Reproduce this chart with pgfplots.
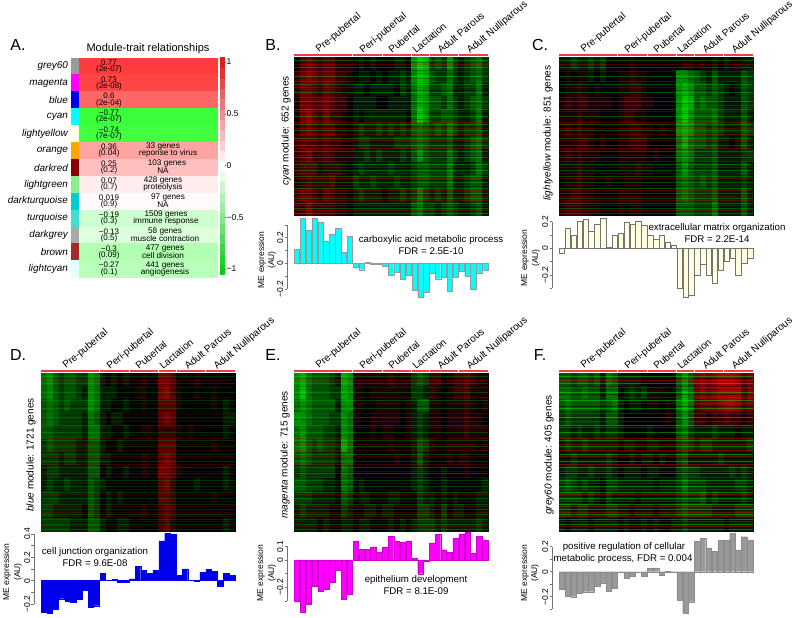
\documentclass[border=0pt]{standalone}
\usepackage{pgfplots}
\usepackage{pgfplotstable}
\usepackage{fontspec}
\setmainfont{Liberation Sans}
\pgfplotsset{compat=1.18}
\definecolor{cyanm}{RGB}{0,255,255}
\definecolor{magentam}{RGB}{255,0,255}
\definecolor{bluem}{RGB}{0,0,235}
\definecolor{lightyellow}{RGB}{255,255,224}
\definecolor{grey60}{RGB}{153,153,153}
\definecolor{darkred}{RGB}{139,0,0}
\definecolor{lightgreen}{RGB}{144,238,144}
\definecolor{darkturquoise}{RGB}{0,206,209}
\definecolor{turquoise}{RGB}{64,224,208}
\definecolor{darkgrey}{RGB}{169,169,169}
\definecolor{brownm}{RGB}{165,42,42}
\definecolor{lightcyan}{RGB}{224,255,255}
\definecolor{orangem}{RGB}{255,165,0}
\definecolor{redline}{RGB}{240,60,70}
\definecolor{stripeg}{RGB}{0,255,0}
\definecolor{striper}{RGB}{255,0,0}
\newcommand\fs[1]{\fontsize{#1}{#1}\selectfont}
\newcommand\T[4][]{\node[inner sep=0pt,#1] at ({(#2)*1pt},{618pt-(#3)*1pt}) {#4};}

% stripes across the heat maps, rows 0-12
\pgfplotstableread[header=false,row sep=\\]{0.55\\1.1\\1.85\\2.3\\3.05\\3.7\\4.15\\4.95\\5.4\\5.85\\6.3\\6.95\\7.45\\7.9\\8.35\\8.85\\9.2\\9.75\\10.1\\10.55\\10.9\\11.3\\11.65\\}\stripeR
\pgfplotstableread[header=false,row sep=\\]{0.25\\0.8\\1.45\\2.05\\2.7\\3.35\\3.95\\4.5\\5.15\\5.6\\6.15\\6.7\\7.2\\7.65\\8.15\\8.6\\9.05\\9.5\\9.95\\10.35\\10.75\\11.15\\11.5\\11.85\\}\stripeG
\pgfplotstableread[header=false,row sep=\\]{0.4\\1.0\\1.25\\1.65\\2.5\\2.95\\3.5\\4.3\\4.75\\5.3\\6.05\\6.5\\7.05\\7.55\\8.0\\8.45\\9.35\\9.85\\10.45\\11.0\\11.4\\11.75\\}\stripeK

\pgfplotstableread[header=false]{
0 3 4 3 2 3 3 1 1 1 0 -1 0 -1 0 0 0 -1 -1 0 -5 -7 -6 -2 -3 -2 -5 -2 -1 -2 -3 -4 -2
2 4 5 4 3 4 4 2 2 1 0 -1 -1 0 -1 0 -1 -1 -2 -1 -5 -7 -6 -3 -2 -2 -4 -2 -1 -2 -3 -4 -2
2 4 4 3 2 4 3 2 1 1 -1 -1 0 -1 -1 -1 -1 0 -2 -1 -4 -6 -5 -2 -2 -3 -4 -1 -1 -2 -2 -4 -1
1 4 4 3 3 4 3 2 2 0 -1 -1 -1 -1 0 0 -1 -1 -1 -1 -4 -6 -5 -3 -3 -2 -4 -2 -1 -2 -3 -4 -2
1 4 5 3 2 4 2 2 1 0 -1 0 -1 -1 -1 -1 -1 -1 -1 0 -4 -7 -5 -2 -2 -3 -3 -2 -1 -1 -2 -4 -1
1 3 4 3 2 3 3 1 1 0 -1 -2 -1 -1 -2 -1 -2 -1 -2 -1 -3 -4 -3 -2 -3 -2 -4 -2 -1 -2 -2 -3 -1
2 3 3 3 2 3 2 2 1 1 -1 -2 -2 -1 -1 -1 -1 -2 -2 -2 -3 -4 -3 -2 -2 -2 -3 -1 -1 -2 -3 -4 -2
2 3 4 2 2 3 2 1 1 1 -1 -1 -2 -1 -2 -1 -1 -1 -2 -1 -3 -5 -3 -2 -2 -2 -4 -2 -1 -2 -3 -4 -1
2 3 3 3 1 2 2 2 1 0 -1 -2 -1 -1 -1 -1 -2 -1 -1 -1 -2 -3 -3 -2 -2 -2 -4 -1 -1 -1 -2 -4 -2
1 2 3 2 2 2 3 1 1 1 -2 -1 -1 -2 -1 -1 -1 -2 -1 -1 -2 -3 -3 -2 -2 -2 -4 -1 -1 -2 -3 -3 -1
2 3 3 2 1 3 2 1 1 0 -1 -2 -1 -1 -1 0 -1 -1 -2 -1 -2 -4 -2 -1 -2 -1 -3 -1 -1 -2 -3 -3 -1
2 2 4 2 2 2 2 1 1 0 -1 -1 -1 -1 -1 -1 -1 -1 -1 -1 -3 -4 -2 -2 -1 -2 -3 -2 -1 -1 -2 -3 -1
}\heatB

\pgfplotstableread[header=false]{
-1 -1 -2 -1 -1 -2 -1 -2 0 0 0 0 1 0 0 0 0 0 0 0 0 1 1 0 1 0 -1 0 -1 1 1 -1 -1
0 1 0 1 1 -1 0 -1 0 0 1 1 2 1 1 0 0 0 0 0 -5 -5 -4 -3 -2 -1 -3 -1 -1 -1 -1 -3 -2
0 1 1 2 1 0 1 0 0 0 1 1 2 2 1 0 0 0 0 0 -5 -6 -5 -3 -3 -2 -3 -2 -1 0 -1 -3 -2
1 2 1 2 2 1 1 1 1 0 1 2 2 2 1 1 0 0 0 0 -5 -7 -6 -3 -4 -3 -3 -2 -1 -1 -1 -3 -2
1 1 1 2 1 1 1 0 0 0 1 2 2 1 1 0 0 0 0 0 -5 -7 -5 -3 -3 -3 -4 -2 -1 -1 -1 -3 -1
1 2 1 2 1 1 0 0 0 0 1 1 2 2 1 1 0 1 0 0 -5 -6 -5 -3 -3 -2 -3 -2 -1 -1 -1 -3 -2
1 1 1 2 2 1 0 1 0 0 1 1 2 2 2 0 0 0 0 0 -4 -6 -4 -3 -3 -2 -3 -1 -1 0 -1 -3 -1
1 2 1 2 1 1 1 0 0 0 1 1 1 1 1 0 1 0 0 0 -4 -5 -4 -2 -2 -2 -3 -1 -1 -1 -1 -2 -2
1 1 1 2 1 1 0 0 0 0 1 1 1 2 1 1 0 0 0 0 -3 -5 -3 -2 -2 -2 -3 -1 -1 -1 -1 -3 -1
0 1 1 2 1 1 0 0 1 0 0 1 1 1 0 0 0 0 0 0 -3 -4 -3 -2 -3 -2 -3 -1 -1 -1 -1 -2 -1
1 1 2 2 1 1 0 0 0 0 1 1 1 1 0 0 0 0 0 0 -3 -4 -3 -2 -2 -2 -3 -1 -1 -1 -1 -3 -1
1 2 2 2 1 1 1 0 0 0 1 0 1 1 0 0 0 0 0 0 -3 -3 -3 -2 -2 -2 -4 -1 -1 -1 -1 -3 -1
}\heatC

\pgfplotstableread[header=false]{
-4 -5 -3 -2 -3 -3 -2 -2 -5 -4 -1 0 -1 0 -1 0 0 1 0 0 4 4 3 0 0 0 1 0 0 0 0 0 0
-4 -5 -3 -2 -3 -3 -2 -1 -5 -4 -1 -1 -1 0 0 0 1 1 0 0 4 5 3 1 0 0 1 0 0 1 0 0 0
-3 -4 -3 -2 -3 -2 -2 -2 -5 -4 -1 -1 0 0 -1 0 0 1 0 0 3 3 3 1 0 0 0 0 0 1 0 -1 0
-3 -4 -3 -2 -2 -2 -2 -1 -4 -3 -1 0 -1 -1 0 0 0 0 0 0 3 4 3 0 0 0 0 0 0 0 0 -1 -1
-3 -3 -2 -2 -2 -2 -2 -1 -4 -4 -1 -1 0 0 -1 0 0 1 1 0 2 2 2 1 0 1 0 0 0 0 0 -1 0
-2 -3 -2 -2 -2 -2 -1 -1 -3 -3 -1 0 0 -1 0 0 0 0 0 0 3 3 3 0 0 0 0 0 0 1 0 0 0
-2 -2 -2 -1 -2 -2 -1 -1 -3 -3 -1 -1 0 0 0 0 0 1 0 0 3 4 3 0 0 0 0 0 0 0 0 0 0
-1 -2 -2 -1 -1 -1 -1 -1 -3 -3 0 -1 0 0 -1 0 0 1 0 0 4 4 3 1 0 0 0 0 0 0 0 -1 0
-1 -2 -1 -1 -2 -1 -1 -1 -3 -2 -1 0 0 0 0 0 0 0 0 0 3 4 2 0 0 0 -1 0 0 0 0 -1 0
-2 -2 -2 -1 -1 -1 -1 -1 -3 -2 0 -1 0 -1 0 0 0 0 0 0 3 3 2 0 0 0 0 0 0 1 0 0 0
-2 -2 -1 -1 -1 -1 -1 0 -3 -2 0 -1 0 0 0 0 0 1 0 0 2 3 2 0 0 0 0 0 0 0 0 0 0
-2 -2 -2 -2 -2 -1 -1 -1 -3 -3 -1 0 0 -1 -1 0 0 0 0 0 2 3 1 0 0 0 0 0 0 0 0 -1 0
}\heatD

\pgfplotstableread[header=false]{
-5 -6 -4 -3 -3 -3 -2 -1 -6 -5 1 1 1 1 1 1 2 1 1 1 -2 -3 -2 2 2 0 1 2 2 3 2 1 1
-5 -7 -4 -3 -3 -3 -2 -2 -6 -5 1 1 0 1 1 1 1 1 1 1 -2 -2 -1 2 1 0 1 2 2 3 1 1 1
-4 -5 -4 -3 -3 -3 -3 -1 -5 -5 1 1 0 0 1 1 1 1 0 1 -1 -3 -3 1 1 0 1 1 1 2 1 0 1
-5 -5 -4 -3 -3 -3 -2 -2 -5 -4 1 0 0 1 1 1 1 1 0 1 -1 -2 -1 1 1 0 1 1 1 2 1 1 0
-4 -5 -3 -3 -3 -2 -2 -1 -5 -4 0 0 0 1 0 1 1 0 0 1 -1 -2 -1 1 1 0 1 1 1 2 1 1 1
-4 -5 -3 -2 -3 -2 -2 -1 -6 -4 0 0 0 0 0 0 1 0 0 0 -1 -3 -2 1 0 0 1 1 1 1 1 0 1
-3 -4 -3 -2 -2 -2 -2 -1 -4 -4 0 0 0 0 0 0 0 1 0 0 -1 -3 -1 0 0 0 1 0 1 1 0 0 0
-2 -3 -2 -2 -2 -2 -2 0 -4 -3 0 0 0 0 0 0 0 0 0 0 -1 -2 -1 0 0 -1 0 0 0 1 0 0 0
-3 -3 -2 -2 -2 -1 -1 0 -4 -3 0 -1 0 0 0 0 0 0 0 0 -1 -2 -1 0 0 -1 0 0 0 0 0 0 -1
-2 -2 -2 -1 -1 -1 -1 0 -3 -2 0 -1 -1 0 0 0 -1 -1 0 0 0 -2 -1 -1 0 -1 0 -1 0 0 0 -1 -1
-1 -2 -1 -1 -1 -1 0 0 -2 -1 0 0 -1 -1 0 -1 -1 0 0 0 0 -2 -2 -1 0 -2 0 -1 -1 0 0 -1 -1
-1 -1 -1 -1 0 -1 0 0 -1 -1 0 -1 -1 0 0 0 -1 0 -1 0 -1 -2 -2 -2 -1 -2 -1 -1 -1 -1 -1 -2 -1
}\heatE

\pgfplotstableread[header=false]{
-3 -3 -2 -3 -3 -2 -3 -1 -4 -3 -1 -1 -1 -1 0 0 0 0 0 0 -3 -5 -3 4 5 4 5 6 6 6 5 3 4
-4 -4 -3 -3 -4 -3 -3 -1 -4 -4 0 -1 -2 -1 -2 1 1 1 0 0 -3 -6 -4 4 5 4 5 6 6 6 6 3 5
-3 -4 -3 -3 -3 -3 -3 -2 -3 -4 -1 0 -1 -1 0 1 1 0 1 0 -4 -6 -4 3 4 4 4 5 6 6 5 3 4
-2 -3 -2 -2 -2 -2 -2 -1 -3 -3 -1 0 0 0 0 0 0 0 1 0 -3 -5 -3 2 2 1 2 2 3 2 2 1 2
-2 -2 -1 -2 -1 -1 -2 -1 -2 -2 -1 0 0 0 0 -1 0 0 0 0 -3 -4 -2 -1 -1 -1 -2 -1 -1 -1 1 -1 -1
-1 -2 -1 -1 -2 -1 -1 -1 -1 -1 0 -1 -1 0 0 -1 -1 0 0 0 -2 -3 -2 -1 -2 -2 -1 -1 -1 -1 -1 -1 -2
-1 -1 -2 -1 -1 -1 -1 -1 -2 -1 0 0 -1 0 -1 -1 0 -1 0 0 -2 -3 -1 -1 -1 -1 -1 -2 -1 -1 -1 -1 -1
-1 -2 -2 -1 -1 -2 -1 -1 -2 -1 0 -1 -1 -1 0 -1 -1 0 0 0 -2 -3 -2 -2 -1 -1 -1 -1 -1 -2 -1 -2 -1
-2 -3 -2 -1 -2 -1 -1 0 -2 -2 -1 -1 -1 -1 -1 -1 0 -1 -1 -1 -2 -4 -2 -2 -2 -1 -1 -1 -1 -1 -2 -2 -1
-2 -2 -2 -2 -1 -2 -1 0 -2 -1 -1 -1 -1 0 -1 -1 -1 -1 -1 -1 -2 -3 -2 -2 -3 -1 -2 -1 -1 -1 -1 -2 -1
-2 -2 -1 -2 -2 -1 -1 -1 -2 -2 -1 -1 0 -1 -1 -1 0 -1 -1 -1 -2 -3 -2 -2 -2 -2 -1 -1 -1 -1 -2 -2 -2
-1 0 -1 -1 -1 0 -1 -1 -1 -1 0 -1 0 0 -1 0 -1 0 0 -1 -1 -2 -1 -1 -1 -1 -1 -1 0 -1 -1 -1 -1
}\heatF

% heat map: left, top, table, stripe opacity
\newcommand\heat[4]{
\begin{axis}[at={({#1pt},{618pt-#2pt})},anchor=north west,scale only axis,width=194pt,height=158pt,
  xmin=0,xmax=33,ymin=0,ymax=12,y dir=reverse,hide axis,xtick=\empty,ytick=\empty,
  colormap={rk}{rgb255(0cm)=(0,255,0); rgb255(1cm)=(0,0,0); rgb255(2cm)=(255,0,0)},
  point meta min=-9,point meta max=9]
\pgfplotsinvokeforeach{0,...,32}{
  \addplot[scatter,only marks,mark=square*,mark size=1pt,forget plot,line width=.1pt,
    scatter/use mapped color={draw=mapped color,fill=mapped color},
    mark options={xscale=3.0,yscale=6.7},point meta=explicit]
    table[x expr=##1+0.5,y expr=\coordindex+0.5,meta index=##1]{#3};
}
\end{axis}
% stripes sit in a second axis, since marks would otherwise be drawn over them
\begin{axis}[at={({#1pt},{618pt-#2pt})},anchor=north west,scale only axis,width=194pt,height=158pt,
  xmin=0,xmax=33,ymin=0,ymax=12,y dir=reverse,hide axis,xtick=\empty,ytick=\empty]
\addplot[xcomb,mark=none,color=striper,opacity=#4,line width=.8pt,forget plot] table[x expr=33,y index=0]{\stripeR};
\addplot[xcomb,mark=none,color=stripeg,opacity=#4,line width=.8pt,forget plot] table[x expr=33,y index=0]{\stripeG};
\addplot[xcomb,mark=none,color=black,opacity=#4,line width=.8pt,forget plot] table[x expr=33,y index=0]{\stripeK};
\end{axis}
\foreach \a/\b in {0/10,10/15,15/20,20/23,23/28,28/33}
  \draw[redline,line width=1.2pt] ({(#1+\a*5.88+.4)*1pt},{(620-#2)*1pt}) -- ({(#1+\b*5.88-.4)*1pt},{(620-#2)*1pt});
\T[rotate=40,anchor=base west,font=\fs{10}]{#1+25}{#2-4}{Pre-pubertal}
\T[rotate=40,anchor=base west,font=\fs{10}]{#1+69}{#2-3}{Peri-pubertal}
\T[rotate=40,anchor=base west,font=\fs{10}]{#1+98}{#2-3}{Pubertal}
\T[rotate=40,anchor=base west,font=\fs{10}]{#1+122}{#2-3}{Lactation}
\T[rotate=40,anchor=base west,font=\fs{10}]{#1+147}{#2-3}{Adult Parous}
\T[rotate=40,anchor=base west,font=\fs{10}]{#1+176}{#2-3}{Adult Nulliparous}
}

% bars: heat left, top of y axis, axis height, ymin, ymax, ticks, labels, style, data
\newcommand\bars[9]{
\begin{axis}[at={({(#1-7)*1pt},{618pt-#2pt})},anchor=north west,scale only axis,width=201pt,height=#3pt,
  xmin=-1.19,xmax=33,ymin=#4,ymax=#5,clip=false,axis x line=none,axis y line=left,xtick=\empty,
  y axis line style={-,black!55,line width=.4pt},ytick=#6,yticklabels=#7,ytick align=outside,
  major tick length=2.5pt,tick style={black!55,line width=.4pt},
  yticklabel style={rotate=90,anchor=south,font=\fs{8.5},inner sep=1pt}]
\addplot[ybar,bar width=5.4pt,bar shift=0pt,#8,line width=.35pt]
  table[row sep=\\,header=false,x expr=\coordindex+0.5,y index=0]{#9};
\end{axis}
}
\newcommand\me[3]{
\T[rotate=90,font=\fs{8.5}]{#1}{#3}{ME expression}
\T[rotate=90,font=\fs{8.5}]{#2}{#3}{(AU)}
}

\begin{document}
\begin{tikzpicture}
\path[use as bounding box] (0,0) rectangle (798pt,618pt);

% A
\begin{axis}[at={(79pt,{618pt-57.7pt})},anchor=north west,scale only axis,width=138pt,height=219.7pt,
  xmin=0,xmax=1,ymin=0,ymax=13,y dir=reverse,hide axis,xtick=\empty,ytick=\empty,
  colormap={gwr}{rgb255(0cm)=(0,255,0); rgb255(1cm)=(255,255,255); rgb255(2cm)=(255,0,0)},
  point meta min=-1,point meta max=1]
\addplot[scatter,only marks,mark=square*,mark size=1pt,line width=.1pt,
  scatter/use mapped color={draw=mapped color,fill=mapped color},
  mark options={xscale=69,yscale=8.5},point meta=explicit]
  table[row sep=\\,header=false,x expr=0.5,y expr=\coordindex+0.5,meta index=0]
  {0.77\\0.73\\0.6\\-0.77\\-0.74\\0.36\\0.25\\0.07\\0.019\\-0.19\\-0.13\\-0.3\\-0.27\\};
\end{axis}
\newcommand\St[2]{\addplot[only marks,mark=square*,mark size=1pt,line width=.1pt,mark options={draw=#1,fill=#1,xscale=3.5,yscale=8.5}] coordinates {(0.5,#2)};}
\begin{axis}[at={(71pt,{618pt-57.7pt})},anchor=north west,scale only axis,width=7pt,height=219.7pt,
  xmin=0,xmax=1,ymin=0,ymax=13,y dir=reverse,hide axis,xtick=\empty,ytick=\empty]
\St{grey60}{0.5}\St{magentam}{1.5}\St{bluem}{2.5}\St{cyanm}{3.5}\St{lightyellow}{4.5}\St{orangem}{5.5}\St{darkred}{6.5}
\St{lightgreen}{7.5}\St{darkturquoise}{8.5}\St{turquoise}{9.5}\St{darkgrey}{10.5}\St{brownm}{11.5}\St{lightcyan}{12.5}
\end{axis}
\begin{axis}[at={(220pt,{618pt-269pt})},anchor=south west,scale only axis,width=3.5pt,height=207pt,
  xmin=0,xmax=1,ymin=-1,ymax=1,axis x line=none,axis y line=right,y axis line style={draw=none,-},xtick=\empty,
  ytick={-1,-0.5,0,0.5,1},yticklabels={−1,−0.5,0,0.5,1},major tick length=2pt,tick style={black!70,line width=.4pt},ytick align=outside,
  yticklabel style={font=\fs{8.5},inner sep=1pt},
  colormap={cb}{rgb255(0cm)=(10,205,20); rgb255(1cm)=(255,255,255); rgb255(2cm)=(220,30,30)},
  point meta min=-1,point meta max=1]
\addplot[scatter,only marks,mark=square*,mark size=1pt,line width=.1pt,
  scatter/use mapped color={draw=mapped color,fill=mapped color},
  mark options={xscale=1.8,yscale=5.4},point meta=explicit]
  table[row sep=\\,header=false,x expr=0.5,y index=0,meta index=0]
  {-1\\-0.9\\-0.8\\-0.7\\-0.6\\-0.5\\-0.4\\-0.3\\-0.2\\-0.1\\0\\0.1\\0.2\\0.3\\0.4\\0.5\\0.6\\0.7\\0.8\\0.9\\1\\};
\end{axis}
\T[font=\fs{16}]{18}{45}{A.}
\T[font=\fs{11}]{148}{49}{Module-trait relationships}
\foreach \y/\n/\c/\p in {66.2/grey60/0.77/(2e-07),83.1/magenta/0.73/(2e-08),100/blue/0.6/(2e-04),116.9/cyan/−0.77/(2e-07),133.8/lightyellow/−0.74/(7e-07),150.7/orange/0.36/(0.04),167.6/darkred/0.25/(0.2),184.5/lightgreen/0.07/(0.7),201.4/darkturquoise/0.019/(0.9),218.3/turquoise/−0.19/(0.3),235.2/darkgrey/−0.13/(0.5),252.1/brown/−0.3/(0.09),269/lightcyan/−0.27/(0.1)}{
  \T[anchor=east,font=\fs{9.9}\itshape]{68}{\y}{\n}
  \T[font=\fs{8}]{109}{\y-3.8}{\c}
  \T[font=\fs{8}]{109}{\y+3}{\p}
}
\foreach \y/\a/\xa/\b/\xb in {150.7/33 genes/163/reponse to virus/168,167.6/103 genes/167/NA/163,184.5/428 genes/163/proteolysis/163,201.4/97 genes/168/NA/163,218.3/1509 genes/166/immune response/166,235.2/58 genes/165/muscle contraction/165,252.1/477 genes/165/cell division/163,269/441 genes/165/angiogenesis/165}{
  \T[font=\fs{8.2}]{\xa}{\y-3.8}{\a}
  \T[font=\fs{8.2}]{\xb}{\y+3}{\b}
}

% B
\heat{294}{57}{\heatB}{0.3}
\bars{294}{224.8}{64.2}{-0.2}{0.3}{{-0.2,-0.1,0,0.1,0.2,0.3}}{{−0.2,,0,,0.2,}}{fill=cyanm,draw=black!40}
 {0.11\\0.35\\0.26\\0.35\\0.32\\0.17\\0.23\\0.27\\0.09\\0.21\\-0.03\\-0.05\\0.01\\-0.003\\-0.005\\-0.025\\-0.09\\-0.07\\-0.125\\-0.09\\-0.21\\-0.265\\-0.225\\-0.08\\-0.12\\-0.11\\-0.22\\-0.105\\-0.065\\-0.1\\-0.205\\-0.075\\-0.055\\}
\T[font=\fs{16}]{273}{45}{B.}
\T[rotate=90,font=\fs{10}]{286}{131}{{\itshape cyan} module: 652 genes}
\me{262}{272}{260}
\T[font=\fs{9.7}]{431}{240}{carboxylic acid metabolic process}
\T[font=\fs{9.7}]{431}{251}{FDR = 2.5E-10}

% C
\heat{559}{57}{\heatC}{0.28}
\bars{559}{221.6}{66.6}{-0.3}{0.2}{{-0.3,-0.2,-0.1,0,0.1,0.2}}{{,−0.2,,0,,0.2}}{fill=lightyellow,draw=black!55}
 {-0.035\\0.15\\0.1\\0.2\\0.22\\0.125\\0.18\\0.225\\0.005\\0.1\\0.115\\0.195\\0.18\\0.205\\0.17\\0.095\\0.065\\0.095\\0.045\\0.025\\-0.3\\-0.365\\-0.35\\-0.2\\-0.12\\-0.2\\-0.26\\-0.165\\-0.095\\-0.075\\-0.205\\-0.11\\-0.075\\}
\T[font=\fs{16}]{540}{45}{C.}
\T[rotate=90,font=\fs{10}]{548}{133}{{\itshape lightyellow} module: 851 genes}
\me{525}{536}{258}
\T[font=\fs{9.7}]{717}{228}{extracellular matrix organization}
\T[font=\fs{9.7}]{717}{239}{FDR = 2.2E-14}

% D
\heat{41}{373}{\heatD}{0.18}
\bars{41}{534}{70}{-0.2}{0.4}{{-0.2,-0.1,0,0.1,0.2,0.3,0.4}}{{−0.2,,0,,0.2,,0.4}}{fill=bluem,draw=bluem}
 {-0.27\\-0.28\\-0.245\\-0.155\\-0.175\\-0.185\\-0.16\\-0.08\\-0.23\\-0.215\\0.065\\0.005\\0.01\\-0.015\\-0.015\\0.015\\0.12\\0.09\\0.065\\0.09\\0.34\\0.405\\0.395\\0.045\\0.1\\0.002\\-0.003\\0.07\\0.095\\0.08\\-0.05\\0.065\\0.045\\}
\T[font=\fs{16}]{18}{355}{D.}
\T[rotate=90,font=\fs{10}]{31}{455}{{\itshape blue} module: 1721 genes}
\me{7}{18}{572}
\T[font=\fs{9.7}]{95}{552}{cell junction organization}
\T[font=\fs{9.7}]{95}{563}{FDR = 9.6E-08}

% E
\heat{294}{373}{\heatE}{0.24}
\bars{294}{546.3}{54.8}{-0.3}{0.1}{{-0.3,-0.2,-0.1,0,0.1}}{{,−0.2,,0,0.1}}{fill=magentam,draw=magentam!80!black}
 {-0.3\\-0.38\\-0.32\\-0.19\\-0.225\\-0.215\\-0.165\\-0.075\\-0.285\\-0.25\\0.135\\0.08\\0.08\\0.095\\0.06\\0.095\\0.175\\0.135\\0.13\\0.14\\0.01\\-0.1\\-0.005\\0.125\\0.185\\0.075\\0.055\\0.16\\0.19\\0.2\\0.05\\0.175\\0.145\\}
\T[font=\fs{16}]{273}{355}{E.}
\T[rotate=90,font=\fs{10}]{285}{455}{{\itshape magenta} module: 715 genes}
\me{261}{272}{573}
\T[font=\fs{9.7}]{416}{580}{epithelium development}
\T[font=\fs{9.7}]{416}{591}{FDR = 8.1E-09}

% F
\heat{559}{373}{\heatF}{0.42}
\bars{559}{546.7}{62.5}{-0.3}{0.2}{{-0.3,-0.2,-0.1,0,0.1,0.2}}{{,−0.2,,0,,0.2}}{fill=grey60,draw=black!45}
 {-0.14\\-0.195\\-0.2\\-0.17\\-0.16\\-0.16\\-0.115\\-0.09\\-0.155\\-0.135\\-0.005\\-0.05\\-0.035\\0\\-0.035\\0.025\\0.03\\-0.025\\0.005\\-0.003\\-0.225\\-0.33\\-0.24\\0.245\\0.265\\0.19\\0.165\\0.25\\0.255\\0.305\\0.175\\0.28\\0.25\\}
\T[font=\fs{16}]{540}{355}{F.}
\T[rotate=90,font=\fs{10}]{549}{455}{{\itshape grey60} module: 405 genes}
\me{525}{535}{573}
\T[font=\fs{9.7}]{624}{547}{positive regulation of cellular}
\T[font=\fs{9.7}]{623}{559}{metabolic process, FDR = 0.004}
\end{tikzpicture}
\end{document}
